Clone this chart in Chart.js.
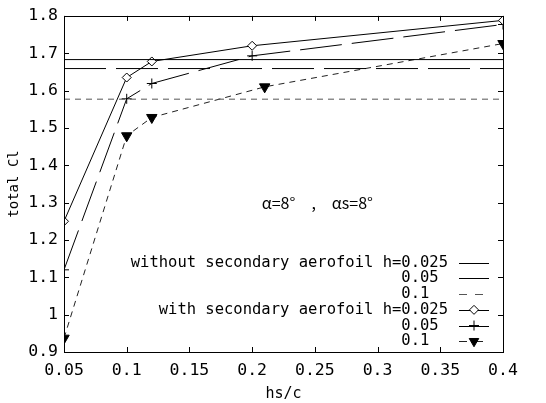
<!DOCTYPE html>
<html><head><meta charset="utf-8">
<script src="https://cdn.jsdelivr.net/npm/chart.js@4.4.1/dist/chart.umd.min.js"></script>
<style>html,body{margin:0;padding:0;background:#fff}#w{width:546px;height:403px}</style>
</head><body><div id="w"><canvas id="c" width="546" height="403"></canvas></div>
<script>
// ---- data ----
const xRange = [0.05, 0.4];
const yRange = [0.9, 1.8];
const xTicks = [0.05, 0.1, 0.15, 0.2, 0.25, 0.3, 0.35, 0.4];
const yTicks = [0.9, 1.0, 1.1, 1.2, 1.3, 1.4, 1.5, 1.6, 1.7, 1.8];
const xTickLabels = ["0.05","0.1","0.15","0.2","0.25","0.3","0.35","0.4"];
const yTickLabels = ["0.9","1","1.1","1.2","1.3","1.4","1.5","1.6","1.7","1.8"];
const baseNoSec = [1.683, 1.659, 1.577];        // without secondary aerofoil h=0.025, 0.05, 0.1
const hsA = [0.05, 0.1, 0.12, 0.2, 0.4];         // h=0.025 with
const clA = [1.25, 1.635, 1.678, 1.720, 1.788];
const hsB = [0.05, 0.1, 0.12, 0.2, 0.4];         // h=0.05 with
const clB = [1.12, 1.578, 1.619, 1.693, 1.777];
const hsC = [0.05, 0.1, 0.12, 0.21, 0.4];        // h=0.1 with
const clC = [0.937, 1.479, 1.528, 1.610, 1.726];
const legendMain = ["without secondary aerofoil h=0.025", "0.05", "0.1", "with secondary aerofoil h=0.025", "0.05", "0.1"];
const xTitle = "hs/c";
const yTitle = "total Cl";
const note = "α=8°\u3000,\u3000αs=8°";

const MONO = "'DejaVu Sans Mono', monospace";
const pts = (xs, ys) => xs.map((x, i) => ({x, y: ys[i]}));
const flat = v => [{x: xRange[0], y: v}, {x: xRange[1], y: v}];

const datasets = [
  {data: flat(baseNoSec[0]), borderColor:'#000', borderWidth:1, pointRadius:0},
  {data: flat(baseNoSec[1]), borderColor:'#000', borderWidth:1, borderDash:[42,10], pointRadius:0},
  {data: flat(baseNoSec[2]), borderColor:'#555', borderWidth:1, borderDash:[6,5], pointRadius:0},
  {data: pts(hsA, clA), borderColor:'#000', borderWidth:1, pointStyle:'rectRot', pointRadius:4.5, pointBackgroundColor:'#fff', pointBorderColor:'#000', pointBorderWidth:1},
  {data: pts(hsB, clB), borderColor:'#000', borderWidth:1, borderDash:[42,10], pointStyle:'cross', pointRadius:5, pointBorderColor:'#000', pointBorderWidth:1},
  {data: pts(hsC, clC), borderColor:'#222', borderWidth:1, borderDash:[6,5], pointStyle:'triangle', rotation:180, pointRadius:6, pointBackgroundColor:'#000', pointBorderColor:'#000', pointBorderWidth:1}
];

const framePlugin = {
  id: 'frame',
  afterDatasetsDraw(chart) {
    const {ctx, chartArea: a, scales} = chart;
    ctx.save();
    ctx.strokeStyle = '#000'; ctx.lineWidth = 1;
    ctx.strokeRect(Math.round(a.left)+0.5, Math.round(a.top)+0.5, Math.round(a.right-a.left), Math.round(a.bottom-a.top));
    const L = 5;
    ctx.beginPath();
    xTicks.forEach(v => {
      const px = Math.round(scales.x.getPixelForValue(v)) + 0.5;
      ctx.moveTo(px, a.bottom); ctx.lineTo(px, a.bottom - L);
      ctx.moveTo(px, a.top); ctx.lineTo(px, a.top + L);
    });
    yTicks.forEach(v => {
      const py = Math.round(scales.y.getPixelForValue(v)) + 0.5;
      ctx.moveTo(a.left, py); ctx.lineTo(a.left + L, py);
      ctx.moveTo(a.right, py); ctx.lineTo(a.right - L, py);
    });
    ctx.stroke();

    // annotation
    ctx.fillStyle = '#000';
    ctx.font = "16px 'Noto Sans CJK JP', sans-serif";
    ctx.textAlign = 'center'; ctx.textBaseline = 'middle';
    ctx.fillText(note, scales.x.getPixelForValue(0.252), scales.y.getPixelForValue(1.30));

    // legend
    ctx.font = "15.5px " + MONO;
    ctx.textBaseline = 'middle';
    ctx.textAlign = 'left';
    const textRight = a.right - 55;
    const w025 = ctx.measureText("0.025").width;
    const rowY0 = scales.y.getPixelForValue(1.139);
    const rowH = 15.7;
    const sx0 = a.right - 44, sx1 = a.right - 14;
    legendMain.forEach((lab, i) => {
      const y = rowY0 + i * rowH;
      let x;
      if (lab.length > 6) x = textRight - ctx.measureText(lab).width;
      else x = textRight - w025;
      ctx.fillStyle = '#000';
      ctx.fillText(lab, x, y);
      const ds = chart.data.datasets[i];
      ctx.save();
      ctx.strokeStyle = ds.borderColor; ctx.lineWidth = 1;
      const dash = ds.borderDash || [];
      ctx.setLineDash(i % 3 === 1 ? [] : (i % 3 === 2 ? [8, 8] : dash));
      ctx.beginPath(); ctx.moveTo(sx0, Math.round(y)+0.5); ctx.lineTo(sx1, Math.round(y)+0.5); ctx.stroke();
      ctx.restore();
      if (ds.pointStyle && ds.pointRadius) {
        ctx.save();
        ctx.fillStyle = ds.pointBackgroundColor || '#000';
        ctx.strokeStyle = '#000'; ctx.lineWidth = 1;
        Chart.helpers.drawPoint(ctx, {
          pointStyle: ds.pointStyle, radius: ds.pointStyle === 'triangle' ? 5.5 : ds.pointRadius, rotation: ds.rotation || 0, borderWidth: 1
        }, (sx0 + sx1) / 2, y);
        ctx.restore();
      }
    });
    ctx.restore();
  }
};

new Chart(document.getElementById('c'), {
  type: 'line',
  data: {datasets},
  options: {
    responsive: false, animation: false,
    layout: {padding: {top: 15, right: 43, left: 6, bottom: 0}},
    plugins: {legend: {display: false}, tooltip: {enabled: false}},
    elements: {line: {tension: 0}},
    scales: {
      x: {
        type: 'linear', min: xRange[0], max: xRange[1],
        afterBuildTicks: s => { s.ticks = xTicks.map(v => ({value: v})); },
        afterFit: s => { s.height = 51; },
        grid: {display: false, drawTicks: false},
        border: {display: false},
        ticks: {padding: 9, maxRotation: 0, autoSkip: false, color: '#000', font: {family: MONO, size: 16.5},
          callback: (v) => xTickLabels[xTicks.findIndex(t => Math.abs(t - v) < 1e-9)]},
        title: {display: true, text: xTitle, color: '#000', font: {family: MONO, size: 15}, padding: {top: 2, bottom: 0}}
      },
      y: {
        type: 'linear', min: yRange[0], max: yRange[1],
        afterBuildTicks: s => { s.ticks = yTicks.map(v => ({value: v})); },
        afterFit: s => { s.width = 58; },
        grid: {display: false, drawTicks: false},
        border: {display: false},
        ticks: {padding: 6, autoSkip: false, color: '#000', font: {family: MONO, size: 16.5},
          callback: (v) => yTickLabels[yTicks.findIndex(t => Math.abs(t - v) < 1e-9)]},
        title: {display: true, text: yTitle, color: '#000', font: {family: MONO, size: 14}, padding: {top: 0, bottom: 2}}
      }
    }
  },
  plugins: [{
    id: 'bg',
    beforeDraw(chart) { chart.ctx.fillStyle = '#fff'; chart.ctx.fillRect(0, 0, chart.width, chart.height); }
  }, framePlugin]
});
</script>
</body></html>
